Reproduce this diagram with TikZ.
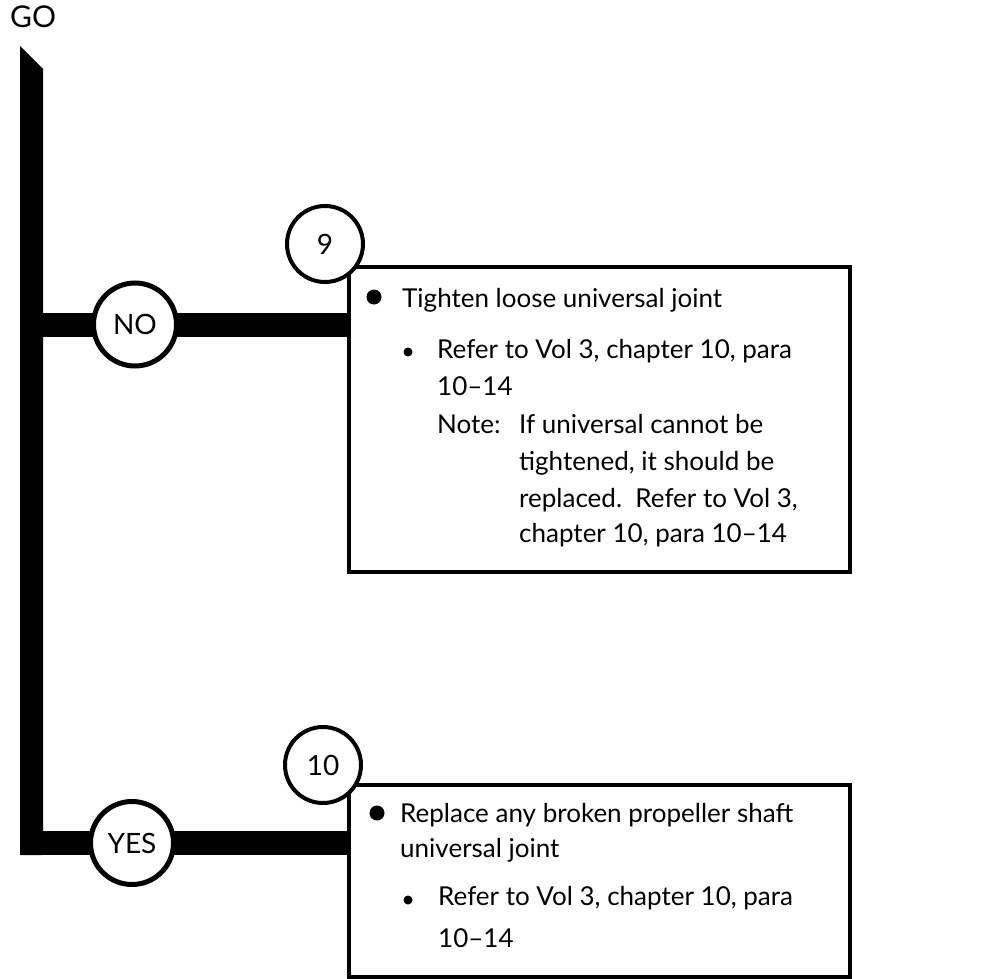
\documentclass[tikz,border=0pt]{standalone}
\usepackage{fontspec}
\setmainfont{Lato}
\usetikzlibrary{positioning}

\tikzset{
  bar/.style={line width=24pt},
  branch/.style={circle, draw, line width=5pt, fill=white, minimum size=83pt, inner sep=0pt, font=\fontsize{28}{28}\selectfont},
  stepnum/.style={circle, draw, line width=4pt, fill=white, minimum size=76pt, inner sep=0pt, font=\fontsize{28}{28}\selectfont},
  actionbox/.style={draw, line width=4pt, fill=white, anchor=north west, inner sep=0pt, minimum width=501pt},
  txt/.style={anchor=base west, inner sep=0pt, font=\fontsize{26}{26}\selectfont},
  bigdot/.style={circle, fill, inner sep=0pt, minimum size=15pt},
  smalldot/.style={circle, fill, inner sep=0pt, minimum size=9pt},
}

\begin{document}
\begin{tikzpicture}[x=1pt, y=-1pt]
    \useasboundingbox (0,0) rectangle (988,979);

    % Start
    \node[anchor=base west, inner sep=0pt, font=\fontsize{30}{30}\selectfont] (go) at (10,28) {GO};

    % Action boxes
    \node[actionbox, minimum height=305pt] (box1) at (347,265) {};
    \node[actionbox, minimum height=192pt] (box2) at (347,783) {};

    % Trunk and branches
    \coordinate (noj) at (20,324.5);
    \coordinate (yesj) at (20,843);
    \fill (20,46) -- (43,69) -- (43,855) -- (20,855) -- cycle;
    \draw[bar] (noj) -- (noj -| box1.west);
    \draw[bar] (yesj) -- (yesj -| box2.west);

    \node[branch] (no) at (135,324.5) {NO};
    \node[branch] (yes) at (132,843) {YES};
    \node[stepnum] (s9) at (325,244) {9};
    \node[stepnum] (s10) at (323,765) {10};

    % Box 1 text
    \node[bigdot] (d1) at (374,297) {};
    \node[txt] (t1) at (402,307) {Tighten loose universal joint};
    \node[smalldot] (d2) at (408,352) {};
    \node[txt] (t2) at (437,358) {Refer to Vol 3, chapter 10, para};
    \node[txt] (t3) at (437,395) {10--14};
    \node[txt] (t4) at (437,433) {Note:};
    \node[txt] (t5) at (519,433) {If universal cannot be};
    \node[txt] (t6) at (519,470) {tightened, it should be};
    \node[txt] (t7) at (519,507) {replaced.\ \ Refer to Vol 3,};
    \node[txt] (t8) at (519,542) {chapter 10, para 10--14};

    % Box 2 text
    \node[bigdot] (d3) at (377,813) {};
    \node[txt] (u1) at (400,822) {Replace any broken propeller shaft};
    \node[txt] (u2) at (400,857) {universal joint};
    \node[smalldot] (d4) at (408,900) {};
    \node[txt] (u3) at (438,905) {Refer to Vol 3, chapter 10, para};
    \node[txt] (u4) at (438,947) {10--14};
\end{tikzpicture}
\end{document}
